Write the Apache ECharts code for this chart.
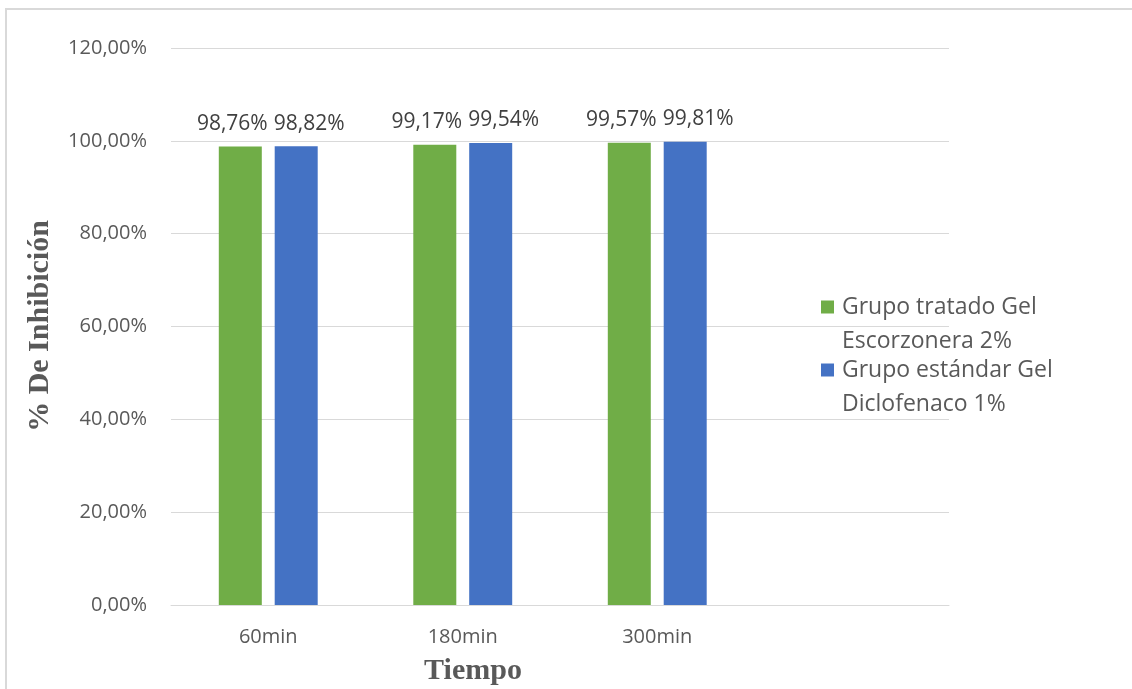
<!DOCTYPE html>
<html>
<head>
<meta charset="utf-8">
<script src="https://cdn.jsdelivr.net/npm/echarts@6/dist/echarts.min.js"></script>
<style>
  html, body { margin: 0; padding: 0; background: #fff; }
  #chart { width: 1132px; height: 689px; }
</style>
</head>
<body>
<div id="chart"></div>
<script>
// Time points (the last slot is left empty on purpose)
const categories = ['60min', '180min', '300min', ''];

// % inhibition for each group
const seriesNames = ['Grupo tratado Gel\nEscorzonera 2%', 'Grupo estándar Gel\nDiclofenaco 1%'];
const tratadoValues = [98.76, 99.17, 99.57];
const estandarValues = [98.82, 99.54, 99.81];

// Value axis ticks
const yMin = 0;
const yMax = 120;
const yStep = 20;

const fmtPct = v => v.toFixed(2).replace('.', ',') + '%';

const chart = echarts.init(document.getElementById('chart'), null, { renderer: 'canvas' });

const labelStyle = (dx) => ({
  show: true,
  position: 'top',
  distance: 12,
  offset: [dx, 0],
  color: '#404040',
  fontFamily: 'Open Sans',
  fontSize: 21,
  formatter: p => fmtPct(p.value)
});

chart.setOption({
  animation: false,
  backgroundColor: '#ffffff',
  grid: { left: 171, right: 183, top: 48, bottom: 84, containLabel: false },
  legend: {
    orient: 'vertical',
    left: 821,
    top: 256,
    padding: 0,
    itemGap: -39,
    itemWidth: 13,
    itemHeight: 13,
    icon: 'rect',
    selectedMode: false,
    data: seriesNames,
    // a leading blank line keeps the swatch level with the first text line
    formatter: name => '\n' + name,
    textStyle: {
      color: '#595959',
      fontFamily: 'Open Sans',
      fontSize: 23,
      lineHeight: 34,
      padding: [0, 0, 0, 3]
    }
  },
  xAxis: {
    type: 'category',
    data: categories,
    axisTick: { show: false },
    axisLine: { lineStyle: { color: '#D9D9D9', width: 1 } },
    axisLabel: {
      color: '#595959',
      fontFamily: 'Open Sans',
      fontSize: 20,
      margin: 22
    }
  },
  yAxis: {
    type: 'value',
    min: yMin,
    max: yMax,
    interval: yStep,
    axisLine: { show: false },
    axisTick: { show: false },
    splitLine: { lineStyle: { color: '#D9D9D9', width: 1 } },
    axisLabel: {
      color: '#595959',
      fontFamily: 'Open Sans',
      fontSize: 20,
      margin: 24,
      formatter: v => fmtPct(v)
    }
  },
  series: [
    {
      name: seriesNames[0],
      type: 'bar',
      data: tratadoValues,
      barWidth: 43,
      barGap: '30%',
      itemStyle: { color: '#70AD47' },
      label: labelStyle(-8)
    },
    {
      name: seriesNames[1],
      type: 'bar',
      data: estandarValues,
      barWidth: 43,
      barGap: '30%',
      itemStyle: { color: '#4472C4' },
      label: labelStyle(13)
    }
  ],
  graphic: [
    // frame edges
    { type: 'line', shape: { x1: 6, y1: 8, x2: 6, y2: 689 }, style: { stroke: '#D9D9D9', lineWidth: 2 }, silent: true },
    { type: 'line', shape: { x1: 5, y1: 9, x2: 1132, y2: 9 }, style: { stroke: '#D9D9D9', lineWidth: 2 }, silent: true },
    // axis titles
    {
      type: 'text',
      x: 40, y: 326,
      rotation: Math.PI / 2,
      style: {
        text: '% De Inhibición',
        fill: '#595959',
        font: 'bold 30px "Liberation Serif"',
        align: 'center',
        verticalAlign: 'middle'
      }
    },
    {
      type: 'text',
      x: 473, y: 671,
      style: {
        text: 'Tiempo',
        fill: '#595959',
        font: 'bold 30px "Liberation Serif"',
        align: 'center',
        verticalAlign: 'middle'
      }
    }
  ]
});
</script>
</body>
</html>
